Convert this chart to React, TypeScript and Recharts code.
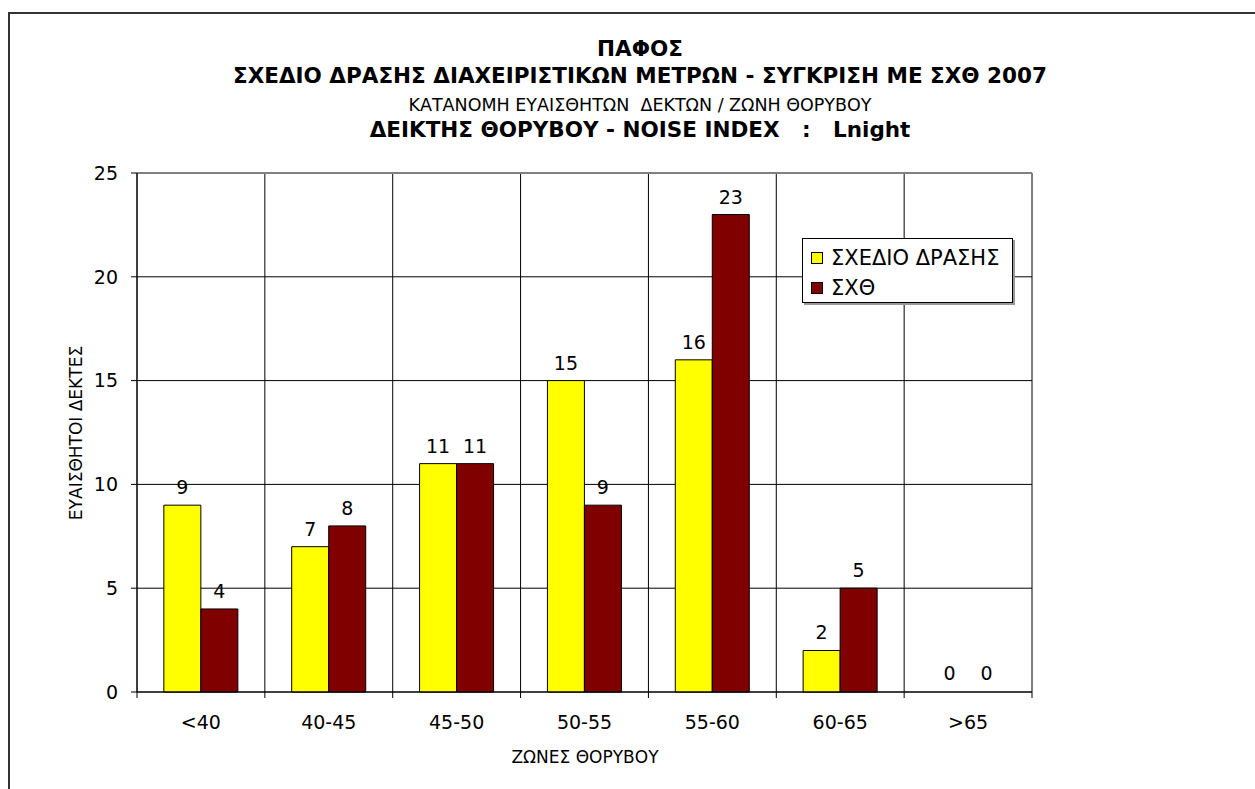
import React from "react";
import {
  Bar,
  BarChart,
  CartesianGrid,
  Cell,
  LabelList,
  Legend,
  ReferenceLine,
  XAxis,
  YAxis,
} from "recharts";

document.body.style.margin = "0";
document.body.style.overflow = "hidden";

const zones = ["<40", "40-45", "45-50", "50-55", "55-60", "60-65", ">65"];
const actionPlan = [9, 7, 11, 15, 16, 2, 0];
const sxth2007 = [4, 8, 11, 9, 23, 5, 0];
const yTicks = [0, 5, 10, 15, 20, 25];

const titleLines = [
  "ΠΑΦΟΣ",
  "ΣΧΕΔΙΟ ΔΡΑΣΗΣ ΔΙΑΧΕΙΡΙΣΤΙΚΩΝ ΜΕΤΡΩΝ - ΣΥΓΚΡΙΣΗ ΜΕ ΣΧΘ 2007",
  "ΚΑΤΑΝΟΜΗ ΕΥΑΙΣΘΗΤΩΝ  ΔΕΚΤΩΝ / ΖΩΝΗ ΘΟΡΥΒΟΥ",
  "ΔΕΙΚΤΗΣ ΘΟΡΥΒΟΥ - NOISE INDEX   :   Lnight",
];

const data = zones.map((zone, i) => ({
  zone,
  plan: actionPlan[i],
  sxth: sxth2007[i],
}));

const font = "'DejaVu Sans', Verdana, sans-serif";
const TICK_SIZE = 6;
const TICK_MARGIN = 18;

// category labels with tick marks between the bands (Excel style)
const ZoneTick = (props: any) => {
  const { x, y, payload, index, visibleTicksCount, width } = props;
  const half = width / visibleTicksCount / 2;
  const axisY = y - TICK_SIZE - TICK_MARGIN;
  return (
    <g>
      <line x1={x - half} x2={x - half} y1={axisY} y2={axisY + TICK_SIZE} stroke="#000" />
      {index === visibleTicksCount - 1 && (
        <line x1={x + half} x2={x + half} y1={axisY} y2={axisY + TICK_SIZE} stroke="#000" />
      )}
      <text x={x} y={y} dy="0.71em" textAnchor="middle" fontSize={19} fill="#000" fontFamily={font}>
        {payload.value}
      </text>
    </g>
  );
};

const LegendBox = ({ payload }: any) => (
  <div
    style={{
      boxSizing: "border-box",
      width: "100%",
      height: 65,
      border: "1px solid #000",
      boxShadow: "2px 2px 0 #999",
      background: "#fff",
      padding: "4px 0 0 8px",
      fontFamily: font,
      fontSize: 21,
      color: "#000",
      whiteSpace: "nowrap",
    }}
  >
    {(payload || []).map((item: any) => (
      <div key={item.value} style={{ display: "flex", alignItems: "center", height: 30 }}>
        <span
          style={{
            display: "inline-block",
            boxSizing: "border-box",
            width: 12,
            height: 12,
            background: item.color,
            border: "1px solid #000",
            marginRight: 8,
          }}
        />
        {item.value}
      </div>
    ))}
  </div>
);

const App = () => {
  return (
    <div style={{ position: "relative", width: 1255, height: 789, overflow: "hidden", background: "#fff" }}>
      <div
        style={{
          position: "absolute",
          left: 8,
          top: 12,
          width: 1400,
          height: 900,
          border: "2px solid #333",
        }}
      />
      <div style={{ position: "absolute", left: 0, top: 0 }}>
        <BarChart
          width={1255}
          height={789}
          data={data}
          margin={{ top: 173, left: 77, right: 223, bottom: 67 }}
          barCategoryGap="21%"
          barGap={0}
        >
          <CartesianGrid
            stroke="#000"
            verticalCoordinatesGenerator={({ offset }: any) =>
              Array.from({ length: zones.length + 1 }, (_, i) => offset.left + (i * offset.width) / zones.length)
            }
          />
          <XAxis
            dataKey="zone"
            height={30}
            interval={0}
            tickSize={TICK_SIZE}
            tickMargin={TICK_MARGIN}
            tickLine={false}
            axisLine={{ stroke: "#000" }}
            tick={<ZoneTick />}
          />
          <YAxis
            width={60}
            domain={[0, 25]}
            ticks={yTicks}
            interval={0}
            tickSize={TICK_SIZE}
            tickMargin={13}
            axisLine={{ stroke: "#000" }}
            tickLine={{ stroke: "#000" }}
            tick={{ fill: "#000", fontSize: 19, fontFamily: font }}
          />
          <ReferenceLine y={25} stroke="#808080" strokeWidth={2} />
          <Legend
            layout="horizontal"
            verticalAlign="middle"
            align="center"
            wrapperStyle={{ left: 802, top: 238, width: 211 }}
            content={<LegendBox />}
          />
          <Bar
            dataKey="plan"
            name="ΣΧΕΔΙΟ ΔΡΑΣΗΣ"
            fill="#FFFF00"
            stroke="#000"
            minPointSize={1}
            isAnimationActive={false}
          >
            {actionPlan.map((v, i) => (
              <Cell key={i} fill={v === 0 ? "none" : "#FFFF00"} stroke={v === 0 ? "none" : "#000"} />
            ))}
            <LabelList dataKey="plan" position="top" offset={11} fill="#000" fontSize={19} fontFamily={font} />
          </Bar>
          <Bar
            dataKey="sxth"
            name="ΣΧΘ"
            fill="#800000"
            stroke="#000"
            minPointSize={1}
            isAnimationActive={false}
          >
            {sxth2007.map((v, i) => (
              <Cell key={i} fill={v === 0 ? "none" : "#800000"} stroke={v === 0 ? "none" : "#000"} />
            ))}
            <LabelList dataKey="sxth" position="top" offset={11} fill="#000" fontSize={19} fontFamily={font} />
          </Bar>
        </BarChart>
      </div>
      <svg
        width={1255}
        height={789}
        style={{ position: "absolute", left: 0, top: 0, pointerEvents: "none" }}
        fontFamily={font}
      >
        <text x={640} y={56} textAnchor="middle" fontSize={21.5} fontWeight="bold">
          {titleLines[0]}
        </text>
        <text x={640} y={83} textAnchor="middle" fontSize={21.5} fontWeight="bold">
          {titleLines[1]}
        </text>
        <text x={640} y={111} textAnchor="middle" fontSize={17.5} style={{ whiteSpace: "pre" }}>
          {titleLines[2]}
        </text>
        <text x={640} y={137} textAnchor="middle" fontSize={21.5} fontWeight="bold" style={{ whiteSpace: "pre" }}>
          {titleLines[3]}
        </text>
        <text x={585} y={763} textAnchor="middle" fontSize={17}>
          ΖΩΝΕΣ ΘΟΡΥΒΟΥ
        </text>
        <text transform="translate(82, 433) rotate(-90)" textAnchor="middle" fontSize={17}>
          ΕΥΑΙΣΘΗΤΟΙ ΔΕΚΤΕΣ
        </text>
      </svg>
    </div>
  );
};

export default App;
